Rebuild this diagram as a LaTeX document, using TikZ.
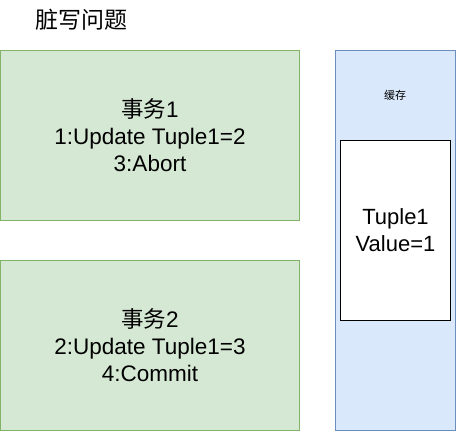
\documentclass[tikz,border=0pt]{standalone}
\usepackage{fontspec}
\setmainfont{Liberation Sans}
\newfontfamily\cjk{Noto Sans CJK SC}
\usetikzlibrary{positioning}
\definecolor{txfill}{HTML}{D5E8D4}
\definecolor{txline}{HTML}{82B366}
\definecolor{cachefill}{HTML}{DAE8FC}
\definecolor{cacheline}{HTML}{6C8EBF}

\begin{document}
\begin{tikzpicture}[x=1pt, y=-1pt,
    txbox/.style={draw=txline, fill=txfill, line width=1pt, minimum width=299pt,
        minimum height=170pt, align=center, font=\fontsize{22.5}{27}\selectfont},
    cachebox/.style={draw=cacheline, fill=cachefill, line width=1pt,
        minimum width=120pt, minimum height=380pt},
    tuplebox/.style={draw=black, fill=white, line width=1pt, minimum width=110pt,
        minimum height=180pt, align=center, font=\fontsize{22}{27}\selectfont}]
\useasboundingbox (0,0) rectangle (471,431);

\node (title) at (81,20) {\fontsize{23}{27}\selectfont\cjk 脏写问题};

\node[txbox] (tx1) at (150,135) {{\cjk 事务}1\\1:Update Tuple1=2\\3:Abort};
\node[txbox] (tx2) at (150,345) {{\cjk 事务}2\\2:Update Tuple1=3\\4:Commit};

\node[cachebox] (cache) at (395.5,240) {};
\node (cachelabel) at (395,95) {\fontsize{11}{13}\selectfont\cjk 缓存};
\node[tuplebox] (tuple) at (395.5,230) {Tuple1\\Value=1};

\end{tikzpicture}
\end{document}
